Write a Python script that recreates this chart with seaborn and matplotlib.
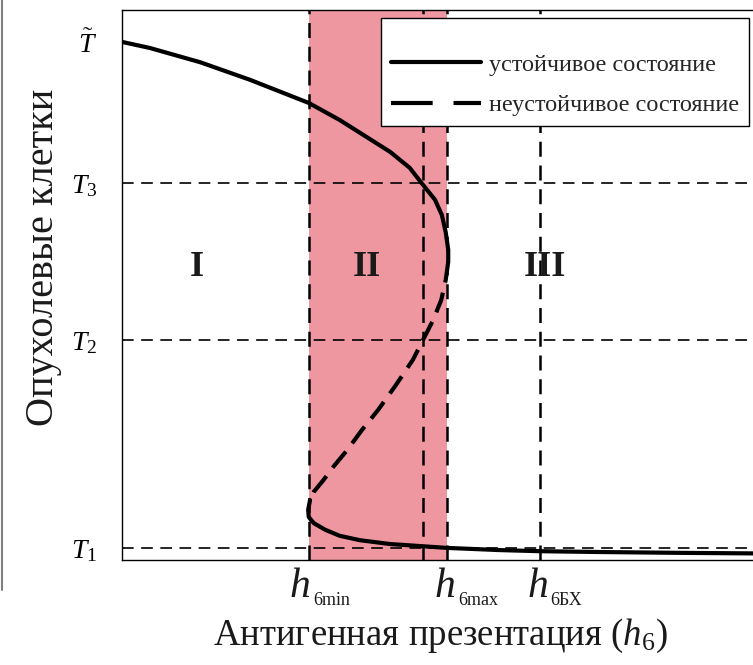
import numpy as np
import pandas as pd
import seaborn as sns
import matplotlib
matplotlib.use('Agg')
import matplotlib.pyplot as plt
from matplotlib.lines import Line2D
import matplotlib.transforms as mtransforms

sns.set_theme(style='white')
plt.rcParams['font.family'] = ['Liberation Serif', 'DejaVu Serif']
plt.rcParams['mathtext.fontset'] = 'custom'
plt.rcParams['mathtext.rm'] = 'Liberation Serif'
plt.rcParams['mathtext.it'] = 'Liberation Serif:italic'
plt.rcParams['mathtext.bf'] = 'Liberation Serif:bold'

# ---- data (arbitrary units) ----
stable_hi_h = [0.0, 4.4, 12.4, 20.3, 29.6, 34.5, 38.5, 42.5, 45.6, 47.5, 49.6, 50.7, 51.3, 51.7, 51.7]
stable_hi_T = [94.2, 93.1, 90.5, 87.3, 83.1, 80.0, 77.1, 74.2, 71.3, 68.5, 65.5, 62.7, 59.6, 56.4, 54.2]
unstable_h = [51.7, 51.3, 50.6, 49.3, 47.7, 46.1, 43.4, 40.6, 38.0, 35.7, 33.6, 31.9, 30.4, 29.8]
unstable_T = [54.2, 50.9, 47.3, 43.6, 40.0, 36.4, 31.8, 27.3, 23.6, 20.0, 17.1, 14.5, 12.4, 10.9]
stable_lo_h = [29.8, 29.5, 29.6, 30.4, 32.2, 34.5, 37.7, 42.5, 47.7, 51.5, 59.9, 66.2, 75.8, 88.4, 100.0]
stable_lo_T = [10.9, 9.1, 7.8, 6.7, 5.5, 4.4, 3.6, 2.9, 2.5, 2.2, 1.8, 1.6, 1.45, 1.3, 1.2]

T_levels = [2.2, 40.0, 68.5, 94.2]
T_labels = [r'$T_1$', r'$T_2$', r'$T_3$', r'$\tilde{T}$']
T_dashed = [2.2, 40.0, 68.5]

h_marks = [29.6, 51.5, 66.2]
h_main = ['h', 'h', 'h']
h_subs = ['6min', '6max', '6БХ']
h_dashed = [29.6, 47.7, 51.5, 66.2]

region_h = [11.9, 38.8, 67.0]
region_T = 53.1
region_labels = ['I', 'II', 'III']

legend_labels = ['устойчивое состояние', 'неустойчивое состояние']

# ---- figure ----
fig = plt.figure(figsize=(7.53, 6.65), dpi=100)
ax = fig.add_axes([122/753, (665-560)/665, 1 - 122/753, (560-10)/665])
ax.set_xlim(0, 100)
ax.set_ylim(0, 100)

ax.axvspan(h_marks[0], h_marks[1], color='#EF97A0', lw=0, zorder=0)

for t in T_dashed:
    ax.axhline(t, color='black', lw=1.2, dashes=(7, 4.5), zorder=1)
for h in h_dashed:
    ax.axvline(h, color='black', lw=1.8, dashes=(6, 3.5), zorder=1)

df_hi = pd.DataFrame({'h': stable_hi_h, 'T': stable_hi_T})
df_un = pd.DataFrame({'h': unstable_h, 'T': unstable_T})
df_lo = pd.DataFrame({'h': stable_lo_h, 'T': stable_lo_T})
sns.lineplot(data=df_hi, x='h', y='T', sort=False, estimator=None, color='black', lw=3, ax=ax, zorder=3)
sns.lineplot(data=df_lo, x='h', y='T', sort=False, estimator=None, color='black', lw=3, ax=ax, zorder=3)
sns.lineplot(data=df_un, x='h', y='T', sort=False, estimator=None, color='black', lw=3, ax=ax, zorder=3,
             dashes=False)
ax.lines[-1].set_dashes((5, 2.5))

for x, lab in zip(region_h, region_labels):
    ax.text(x, region_T, lab, ha='center', va='center', fontsize=26, fontweight='bold', color='#1a1a1a')

ax.set_yticks(T_levels)
ax.set_yticklabels(T_labels, fontsize=20)
ax.set_xticks(h_marks)
ax.set_xticklabels([])
ax.tick_params(axis='both', length=0, colors='black')
ax.tick_params(axis='y', pad=18)

# h labels: italic h with small upright subscript
xt = ax.get_xaxis_transform()
h_dx = [-19, -12, -12]
for x, m, s, dx in zip(h_marks, h_main, h_subs, h_dx):
    ax.annotate(m, xy=(x, 0), xycoords=xt, xytext=(dx, -37), textcoords='offset pixels',
                ha='left', va='baseline', fontsize=30, fontstyle='italic', color='#1a1a1a')
    ax.annotate(s, xy=(x, 0), xycoords=xt, xytext=(dx + 23, -45), textcoords='offset pixels',
                ha='left', va='baseline', fontsize=13, color='#1a1a1a')

ax.set_xlabel('Антигенная презентация ($h_6$)', fontsize=26.5, color='#1a1a1a')
ax.set_ylabel('Опухолевые клетки', fontsize=29, color='#1a1a1a')
ax.xaxis.set_label_coords((440-122)/631, -(617-560)/550)
ax.yaxis.set_label_coords(-(122-62)/631, (560-257)/550)
ax.xaxis.label.set_va('top')
ax.yaxis.label.set_va('bottom')

for s in ['left', 'top', 'bottom']:
    ax.spines[s].set_visible(True)
    ax.spines[s].set_color('black')
    ax.spines[s].set_linewidth(1.0)
ax.spines['right'].set_visible(False)

handles = [Line2D([], [], color='black', lw=3),
           Line2D([], [], color='black', lw=3, dashes=(10, 5))]
leg = ax.legend(handles, legend_labels, loc='upper left', bbox_to_anchor=((381-122)/631, (560-18)/550),
                borderaxespad=0, fontsize=17.5, handlelength=3.7, handletextpad=0.35, labelspacing=0.75,
                borderpad=0.4, frameon=True, fancybox=False, framealpha=1, edgecolor='black',
                title=' ', title_fontsize=6)
leg.get_frame().set_linewidth(1.0)

fig.add_artist(Line2D([2/753, 2/753], [1, 1 - 590/665], color='gray', lw=1.5, transform=fig.transFigure))

fig.savefig('out.png', dpi=100)
